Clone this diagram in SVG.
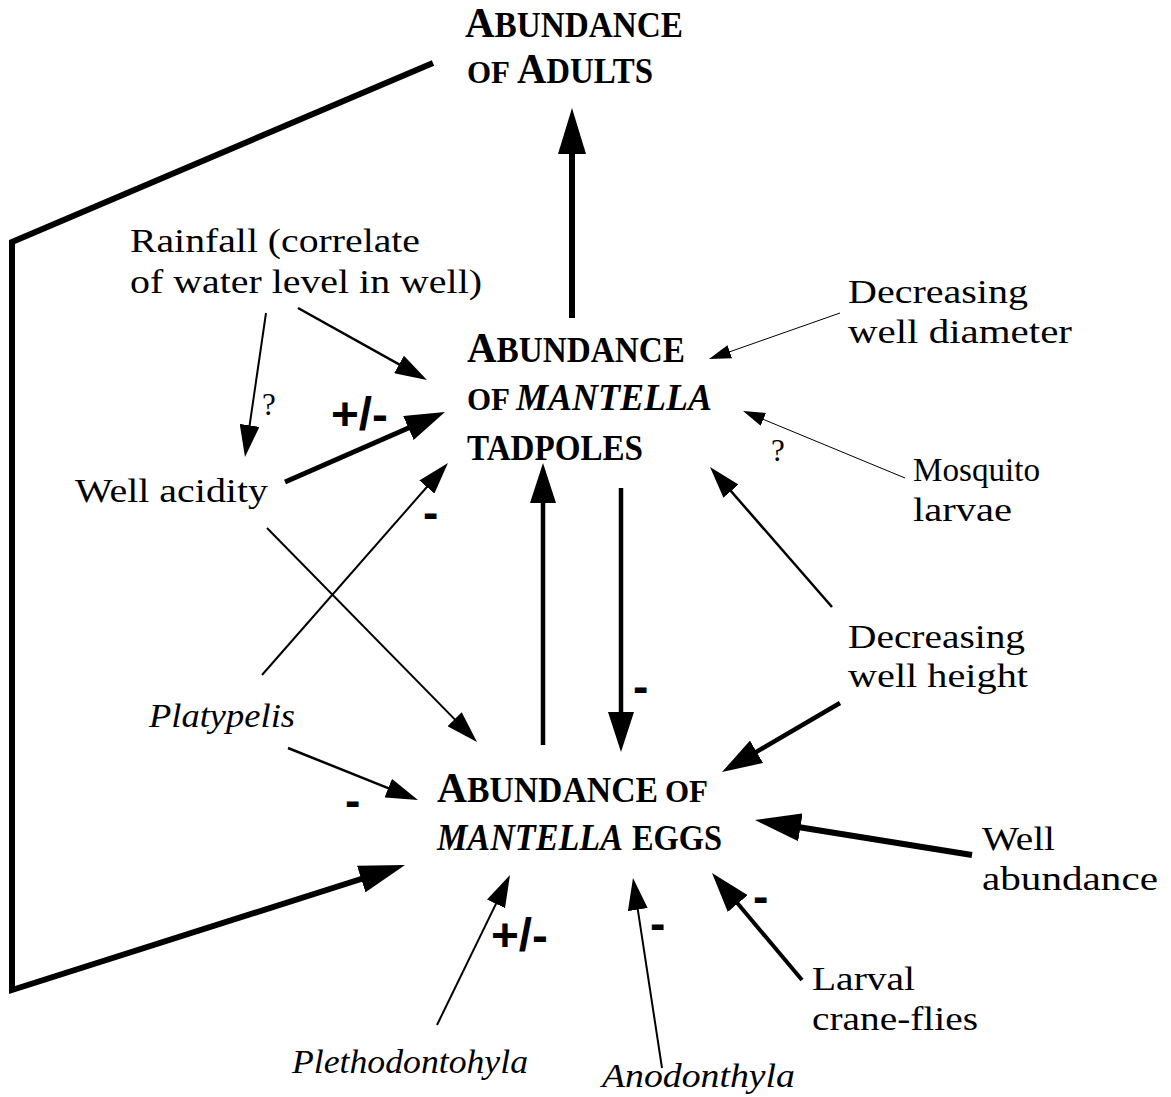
<svg xmlns="http://www.w3.org/2000/svg" width="1171" height="1097" viewBox="0 0 1171 1097">
<style>
.t{font-family:"Liberation Serif","Times New Roman",serif;font-size:33px;fill:#000}
.i{font-style:italic}
.b{font-family:"Liberation Serif","Times New Roman",serif;font-weight:bold;font-size:35px;fill:#000}
.of{font-size:31px}
.big{font-size:43px}
.bi{font-style:italic;font-size:37px}
.s{font-family:"Liberation Sans",Arial,sans-serif;font-weight:bold;font-size:46px;fill:#000}
.q{font-family:"Liberation Serif","Times New Roman",serif;font-size:31px;fill:#000}
.c{fill:none;stroke:#000;stroke-linejoin:miter}
</style>
<defs>
<marker id="ahxl" markerUnits="userSpaceOnUse" markerWidth="46" markerHeight="28" viewBox="0 0 46 28" refX="23" refY="14" orient="auto"><path d="M0,0 L46,14 L0,28 z" fill="#000"/></marker>
<marker id="ahl" markerUnits="userSpaceOnUse" markerWidth="40" markerHeight="26" viewBox="0 0 40 26" refX="20" refY="13" orient="auto"><path d="M0,0 L40,13 L0,26 z" fill="#000"/></marker>
<marker id="ahm" markerUnits="userSpaceOnUse" markerWidth="32" markerHeight="20" viewBox="0 0 32 20" refX="16" refY="10" orient="auto"><path d="M0,0 L32,10 L0,20 z" fill="#000"/></marker>
<marker id="ahs" markerUnits="userSpaceOnUse" markerWidth="22" markerHeight="14" viewBox="0 0 22 14" refX="11" refY="7" orient="auto"><path d="M0,0 L22,7 L0,14 z" fill="#000"/></marker>
</defs>
<rect width="1171" height="1097" fill="#fff"/>

<g id="connectors">
<path class="c" stroke-width="6" d="M572,318 L572,131" marker-end="url(#ahxl)"/>
<path class="c" stroke-width="6" d="M433,63 L12,242 L12,990 L383.1,872" marker-end="url(#ahxl)"/>
<path class="c" stroke-width="2.5" d="M298,308 L413,372.2" marker-end="url(#ahm)"/>
<path class="c" stroke-width="2" d="M266,313 L247.3,441.2" marker-end="url(#ahm)"/>
<path class="c" stroke-width="5" d="M285,482 L426.7,420" marker-end="url(#ahl)"/>
<path class="c" stroke-width="2" d="M262,675 L437.4,475" marker-end="url(#ahm)"/>
<path class="c" stroke-width="2" d="M267,528 L465.8,730.6" marker-end="url(#ahm)"/>
<path class="c" stroke-width="4.5" d="M543,745 L543,483" marker-end="url(#ahl)"/>
<path class="c" stroke-width="4.5" d="M621,488 L621,732" marker-end="url(#ahl)"/>
<path class="c" stroke-width="1" d="M840,313 L719.4,355.4" marker-end="url(#ahs)"/>
<path class="c" stroke-width="1" d="M905,478 L753.2,415.2" marker-end="url(#ahs)"/>
<path class="c" stroke-width="2.5" d="M832,607 L720.5,479.1" marker-end="url(#ahm)"/>
<path class="c" stroke-width="4.5" d="M840,703 L739.3,761.9" marker-end="url(#ahl)"/>
<path class="c" stroke-width="2.5" d="M288,748 L403.1,794.1" marker-end="url(#ahm)"/>
<path class="c" stroke-width="6" d="M972,855 L777.7,823.7" marker-end="url(#ahxl)"/>
<path class="c" stroke-width="4" d="M802,980 L724.9,888.3" marker-end="url(#ahl)"/>
<path class="c" stroke-width="2" d="M662,1068 L635.4,893.8" marker-end="url(#ahm)"/>
<path class="c" stroke-width="2" d="M437,1025 L503,889.4" marker-end="url(#ahm)"/>
</g>

<g id="labels">
<text class="s" x="331" y="430" textLength="57" lengthAdjust="spacingAndGlyphs">+/-</text>
<text class="s" x="423" y="528">-</text>
<text class="s" x="633" y="702">-</text>
<text class="s" x="345" y="816">-</text>
<text class="s" x="491" y="951" textLength="57" lengthAdjust="spacingAndGlyphs">+/-</text>
<text class="s" x="650" y="939">-</text>
<text class="s" x="753" y="912">-</text>
<text class="q" x="262" y="415">?</text>
<text class="q" x="771" y="461">?</text>
</g>

<g id="node-adults">
<text class="b" x="465" y="37" textLength="218" lengthAdjust="spacingAndGlyphs"><tspan class="big">A</tspan>BUNDANCE</text>
<text class="b of" x="467" y="83">OF</text>
<text class="b" x="517" y="83" textLength="136" lengthAdjust="spacingAndGlyphs"><tspan class="big">A</tspan>DULTS</text>
</g>

<g id="node-tadpoles">
<text class="b" x="467" y="362" textLength="218" lengthAdjust="spacingAndGlyphs"><tspan class="big">A</tspan>BUNDANCE</text>
<text class="b of" x="467" y="410">OF</text>
<text class="b bi" x="516" y="410" textLength="196" lengthAdjust="spacingAndGlyphs">MANTELLA</text>
<text class="b" x="467" y="460" textLength="176" lengthAdjust="spacingAndGlyphs">TADPOLES</text>
</g>

<g id="node-eggs">
<text class="b" x="437" y="802" textLength="221" lengthAdjust="spacingAndGlyphs"><tspan class="big">A</tspan>BUNDANCE</text>
<text class="b of" x="665" y="802">OF</text>
<text class="b bi" x="437" y="850" textLength="186" lengthAdjust="spacingAndGlyphs">MANTELLA</text>
<text class="b" x="632" y="850" textLength="90" lengthAdjust="spacingAndGlyphs">EGGS</text>
</g>

<g id="node-rainfall">
<text class="t" x="130" y="252" textLength="290" lengthAdjust="spacingAndGlyphs">Rainfall (correlate</text>
<text class="t" x="130" y="293" textLength="352" lengthAdjust="spacingAndGlyphs">of water level in well)</text>
</g>

<g id="node-diameter">
<text class="t" x="848" y="303" textLength="180" lengthAdjust="spacingAndGlyphs">Decreasing</text>
<text class="t" x="848" y="343" textLength="224" lengthAdjust="spacingAndGlyphs">well diameter</text>
</g>

<g id="node-mosquito">
<text class="t" x="913" y="481" textLength="127" lengthAdjust="spacingAndGlyphs">Mosquito</text>
<text class="t" x="913" y="521" textLength="99" lengthAdjust="spacingAndGlyphs">larvae</text>
</g>

<g id="node-acidity">
<text class="t" x="75" y="502" textLength="193" lengthAdjust="spacingAndGlyphs">Well acidity</text>
</g>

<g id="node-height">
<text class="t" x="848" y="648" textLength="177" lengthAdjust="spacingAndGlyphs">Decreasing</text>
<text class="t" x="848" y="687" textLength="180" lengthAdjust="spacingAndGlyphs">well height</text>
</g>

<g id="node-platypelis">
<text class="t i" x="149" y="727" textLength="146" lengthAdjust="spacingAndGlyphs">Platypelis</text>
</g>

<g id="node-well-abundance">
<text class="t" x="982" y="850" textLength="73" lengthAdjust="spacingAndGlyphs">Well</text>
<text class="t" x="982" y="890" textLength="176" lengthAdjust="spacingAndGlyphs">abundance</text>
</g>

<g id="node-craneflies">
<text class="t" x="812" y="990" textLength="103" lengthAdjust="spacingAndGlyphs">Larval</text>
<text class="t" x="812" y="1030" textLength="166" lengthAdjust="spacingAndGlyphs">crane-flies</text>
</g>

<g id="node-plethodontohyla">
<text class="t i" x="292" y="1073" textLength="236" lengthAdjust="spacingAndGlyphs">Plethodontohyla</text>
</g>

<g id="node-anodonthyla">
<text class="t i" x="602" y="1087" textLength="193" lengthAdjust="spacingAndGlyphs">Anodonthyla</text>
</g>
</svg>
